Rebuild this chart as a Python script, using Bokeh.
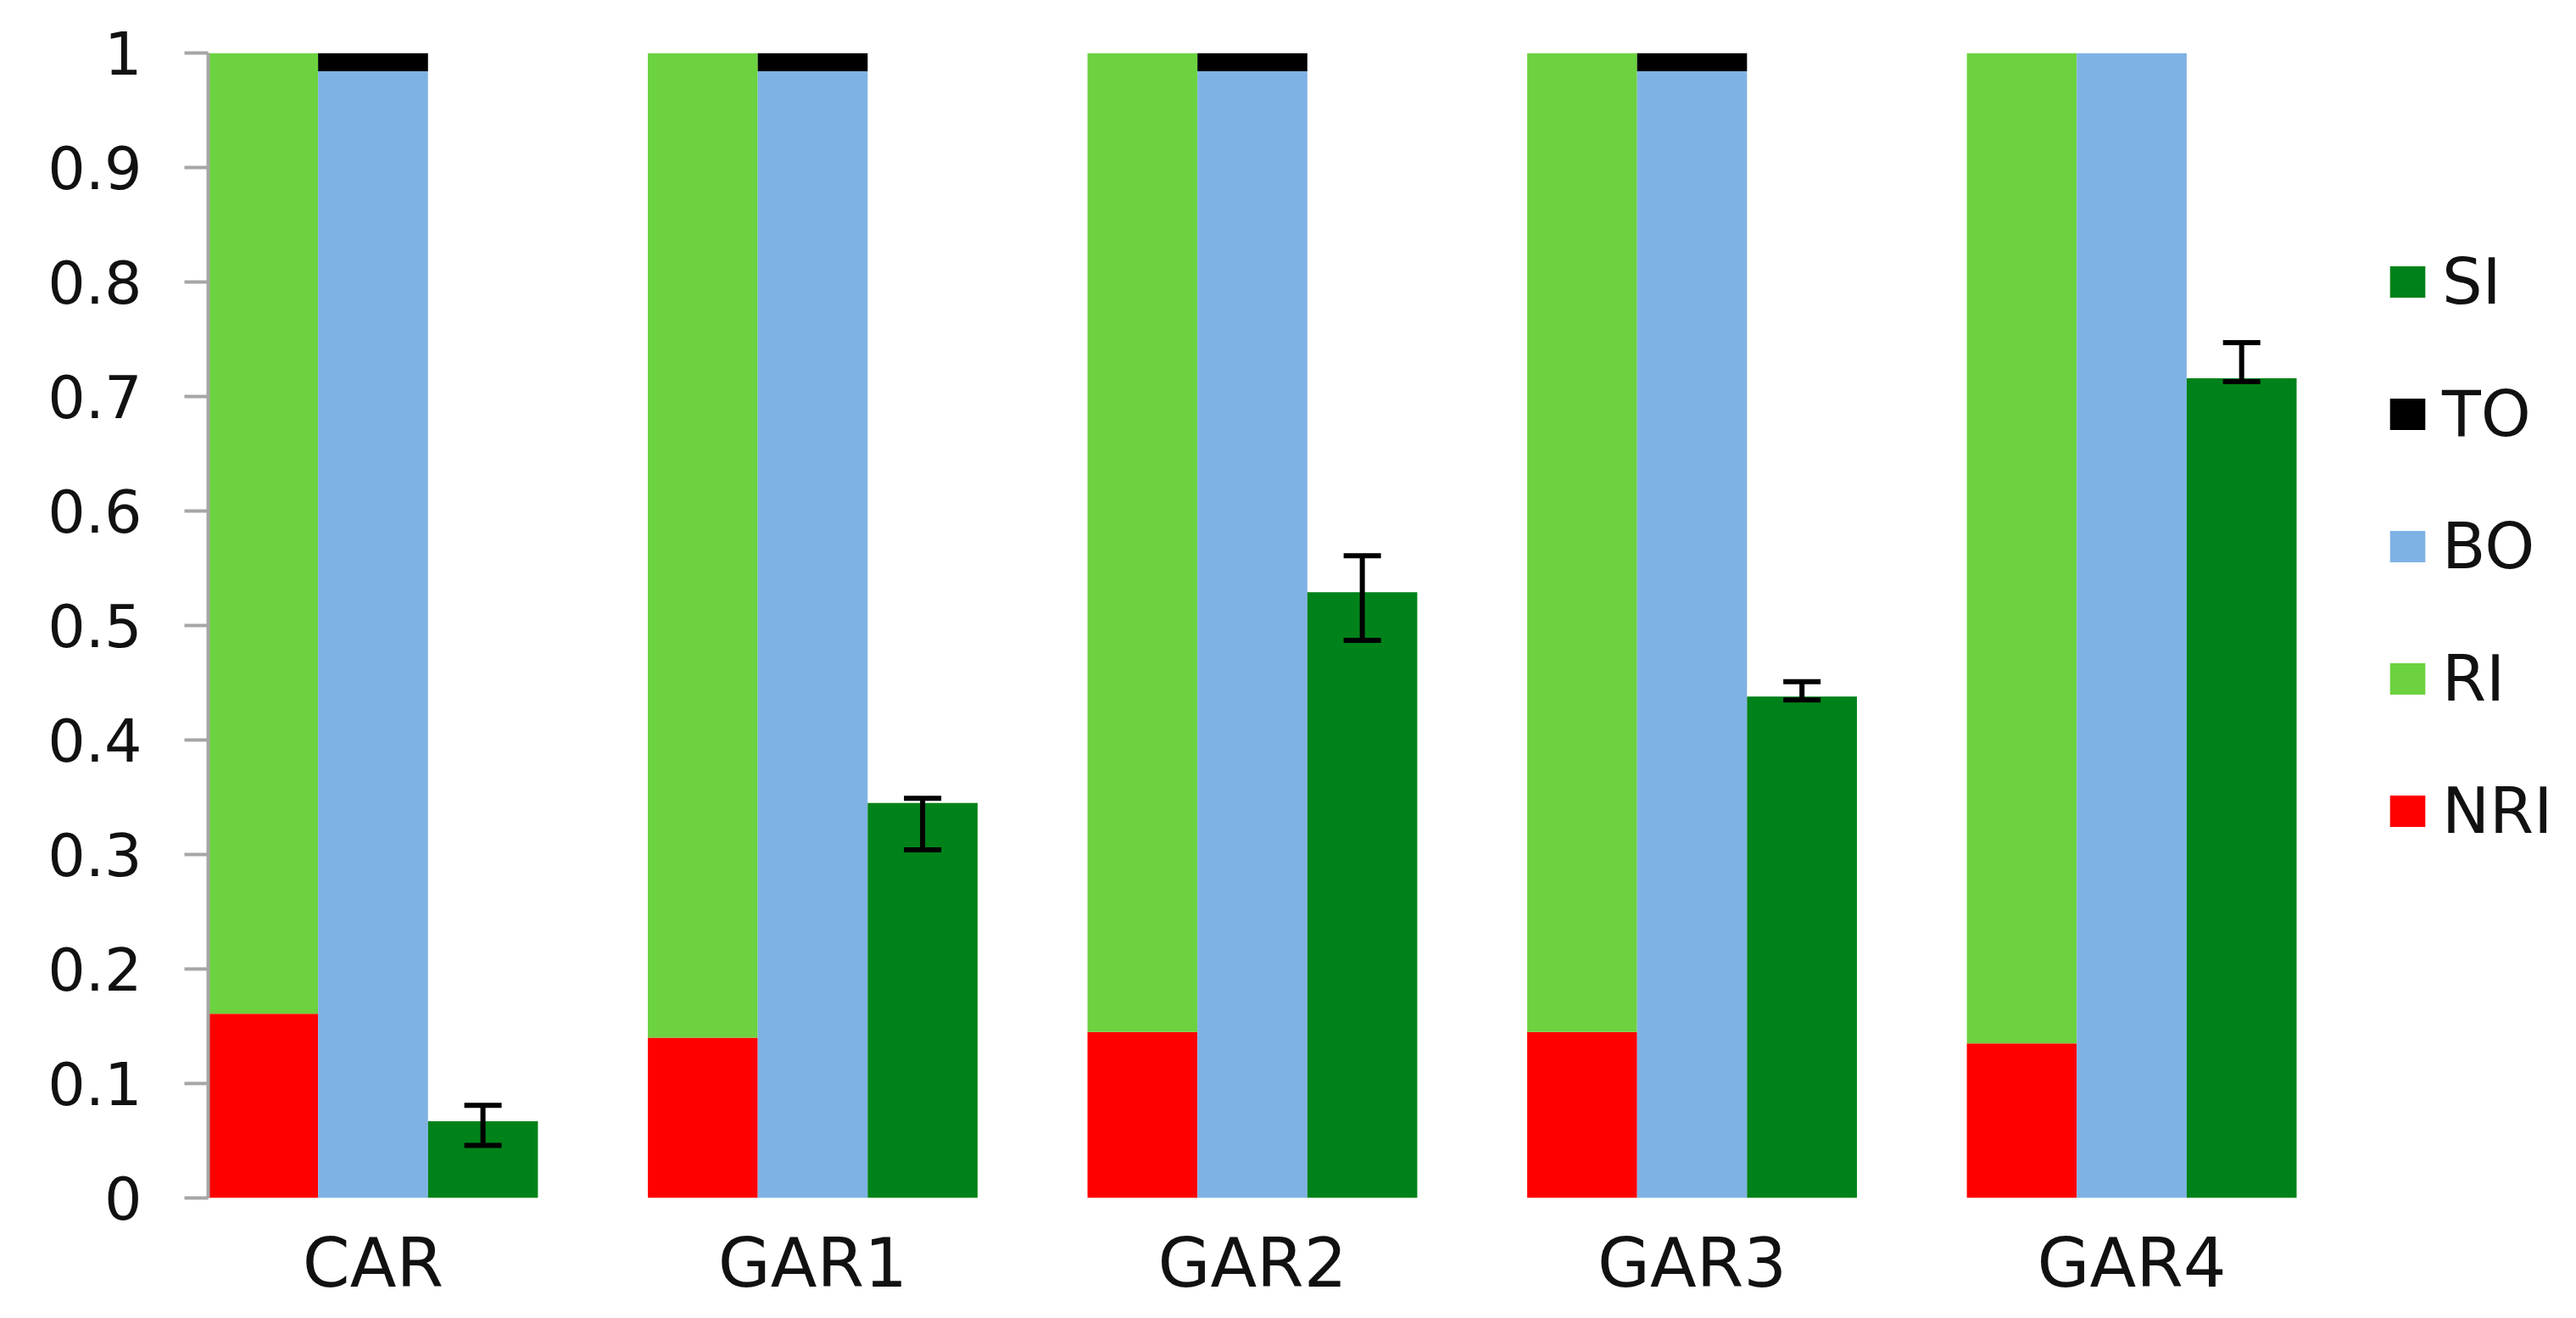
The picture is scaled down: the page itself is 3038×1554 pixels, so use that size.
from bokeh.plotting import figure
from bokeh.models import (ColumnDataSource, Whisker, Legend, LegendItem,
                          FixedTicker, TeeHead)
from bokeh.embed import file_html
from bokeh.resources import INLINE

# ---- data -------------------------------------------------------------
categories = ["CAR", "GAR1", "GAR2", "GAR3", "GAR4"]
nri = [0.161, 0.140, 0.145, 0.145, 0.135]
ri = [round(1 - v, 3) for v in nri]
to = [0.016, 0.016, 0.016, 0.016, 0.0]
bo = [round(1 - v, 3) for v in to]
si = [0.067, 0.345, 0.529, 0.438, 0.716]
si_upper = [0.081, 0.349, 0.561, 0.451, 0.747]
si_lower = [0.046, 0.304, 0.487, 0.435, 0.713]
y_ticks = [0, 0.1, 0.2, 0.3, 0.4, 0.5, 0.6, 0.7, 0.8, 0.9, 1]
y_labels = ["0", "0.1", "0.2", "0.3", "0.4", "0.5", "0.6", "0.7", "0.8", "0.9", "1"]

# ---- colours / styles ---------------------------------------------------
C_NRI = "#FF0000"
C_RI = "#6CD23F"
C_BO = "#7FB2E4"
C_TO = "#000000"
C_SI = "#00821A"
FONT = "DejaVu Sans"

# ---- layout (pixels) ----------------------------------------------------
FIG_W, FIG_H = 3030, 1538
LEFT, TOP, BOTTOM = 245, 62, 123
BARS_RIGHT_PX = 2708          # where the last bar ends

# slot positions: 4 bar-width slots per category, 3 bars + 1 gap
n = len(categories)
x_ri = [4 * i + 0.5 for i in range(n)]
x_bo = [4 * i + 1.5 for i in range(n)]
x_si = [4 * i + 2.5 for i in range(n)]
x_lab = [4 * i + 1.5 for i in range(n)]
bars_end = 4 * n - 1
x_end = bars_end * (FIG_W - LEFT) / (BARS_RIGHT_PX - LEFT)

src = ColumnDataSource(dict(
    x_ri=x_ri, x_bo=x_bo, x_si=x_si,
    nri=nri, ri_top=[a + b for a, b in zip(nri, ri)],
    bo=bo, to_top=[a + b for a, b in zip(bo, to)],
    si=si, si_upper=si_upper, si_lower=si_lower,
    zero=[0] * n,
))

p = figure(width=FIG_W, height=FIG_H, x_range=(0, x_end), y_range=(0, 1),
           output_backend="svg", toolbar_location=None,
           min_border_left=LEFT, min_border_right=0,
           min_border_top=TOP, min_border_bottom=BOTTOM)
p.outline_line_color = None
p.xgrid.visible = False
p.ygrid.visible = False
p.background_fill_color = "white"
p.border_fill_color = "white"

W = 1.0
r_nri = p.vbar(x="x_ri", bottom="zero", top="nri", width=W, source=src,
               fill_color=C_NRI, line_color=None)
r_ri = p.vbar(x="x_ri", bottom="nri", top="ri_top", width=W, source=src,
              fill_color=C_RI, line_color=None)
r_bo = p.vbar(x="x_bo", bottom="zero", top="bo", width=W, source=src,
              fill_color=C_BO, line_color=None)
r_to = p.vbar(x="x_bo", bottom="bo", top="to_top", width=W, source=src,
              fill_color=C_TO, line_color=None)
r_si = p.vbar(x="x_si", bottom="zero", top="si", width=W, source=src,
              fill_color=C_SI, line_color=None)

wh = Whisker(base="x_si", upper="si_upper", lower="si_lower", source=src,
             line_color="black", line_width=6, level="overlay",
             upper_head=TeeHead(size=44, line_width=6, line_color="black"),
             lower_head=TeeHead(size=44, line_width=6, line_color="black"))
p.add_layout(wh)

# x axis
xa = p.xaxis[0]
xa.ticker = FixedTicker(ticks=x_lab)
xa.major_label_overrides = {x: c for x, c in zip(x_lab, categories)}
xa.axis_line_color = None
xa.major_tick_line_color = None
xa.minor_tick_line_color = None
xa.major_tick_out = 0
xa.major_tick_in = 0
xa.major_label_standoff = 30
xa.major_label_text_font = FONT
xa.major_label_text_font_size = "80px"
xa.major_label_text_color = "#111111"

# y axis
ya = p.yaxis[0]
ya.ticker = FixedTicker(ticks=y_ticks)
ya.major_label_overrides = {t: l for t, l in zip(y_ticks, y_labels)}
ya.axis_line_color = "#A6A6A6"
ya.axis_line_width = 4
ya.major_tick_line_color = "#A6A6A6"
ya.major_tick_line_width = 4
ya.major_tick_out = 28
ya.major_tick_in = 0
ya.minor_tick_line_color = None
ya.major_label_standoff = 50
ya.major_label_text_font = FONT
ya.major_label_text_font_size = "70px"
ya.major_label_text_color = "#111111"

legend = Legend(items=[
    LegendItem(label="SI", renderers=[r_si]),
    LegendItem(label="TO", renderers=[r_to]),
    LegendItem(label="BO", renderers=[r_bo]),
    LegendItem(label="RI", renderers=[r_ri]),
    LegendItem(label="NRI", renderers=[r_nri]),
], location=(2568, 411), orientation="vertical",
    glyph_width=52, glyph_height=46, label_standoff=15,
    label_height=90, spacing=66, padding=0, margin=0,
    border_line_color=None, background_fill_alpha=0,
    label_text_font=FONT, label_text_font_size="75px",
    label_text_color="#111111", label_text_baseline="middle")
p.add_layout(legend, "center")

open("out.html", "w").write(file_html(p, INLINE))
